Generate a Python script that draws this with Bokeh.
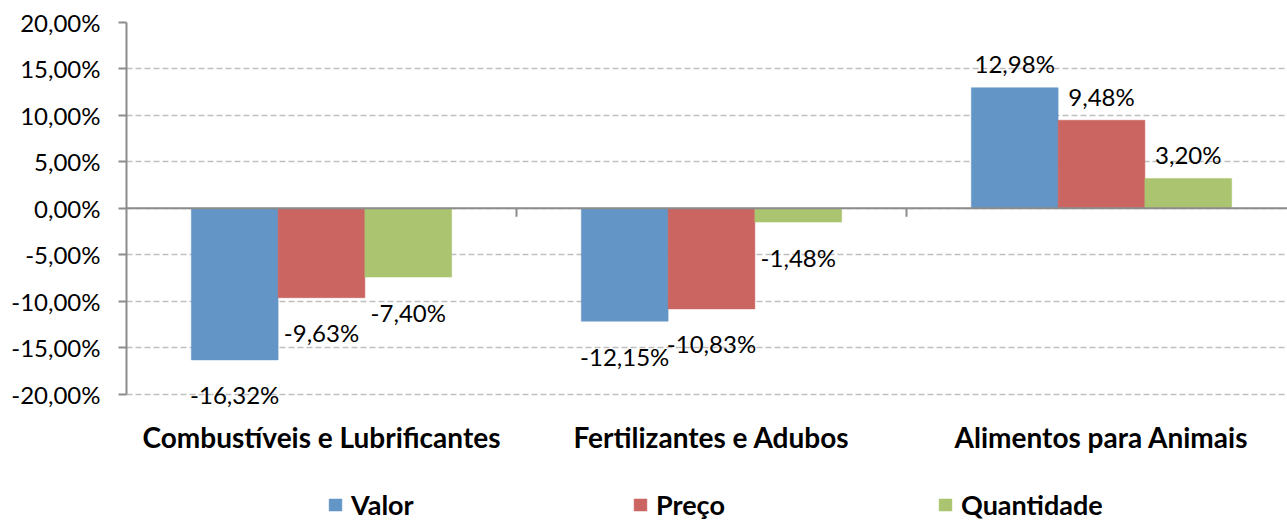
from bokeh.plotting import figure
from bokeh.models import (ColumnDataSource, FixedTicker, Span, LabelSet, Legend, LegendItem, Range1d)
from bokeh.core.properties import value
from bokeh.embed import file_html
from bokeh.resources import INLINE

categories = ["Combustíveis e Lubrificantes", "Fertilizantes e Adubos", "Alimentos para Animais"]
series = ["Valor", "Preço", "Quantidade"]
valor = [-16.32, -12.15, 12.98]
preco = [-9.63, -10.83, 9.48]
quantidade = [-7.40, -1.48, 3.20]
colors = ["#6395C7", "#CA6561", "#AAC46F"]
y_ticks = [-20, -15, -10, -5, 0, 5, 10, 15, 20]
y_tick_labels = ["-20,00%", "-15,00%", "-10,00%", "-5,00%", "0,00%", "5,00%", "10,00%", "15,00%", "20,00%"]

FONT = "Lato"
W, H = 1287, 524
LEFT, TOP = 126, 22
PX_PER_UNIT = 371.6 / 40.0
CAT_PX = 390.0
bar_w = 0.2225
offsets = [-bar_w, 0.0, bar_w]

y_end = y_ticks[-1]
y_start = y_end - (H - TOP) / PX_PER_UNIT

p = figure(width=W, height=H, output_backend="svg", toolbar_location=None,
           x_range=Range1d(0, (W - LEFT) / CAT_PX), y_range=Range1d(y_start, y_end),
           x_axis_location=None,
           min_border_left=LEFT, min_border_right=0, min_border_top=TOP, min_border_bottom=0)
p.outline_line_color = None
p.background_fill_color = "white"
p.border_fill_color = "white"

# grid
p.xgrid.grid_line_color = None
p.ygrid.ticker = FixedTicker(ticks=y_ticks)
p.ygrid.grid_line_color = "#bfbfbf"
p.ygrid.grid_line_dash = "6 3"
p.ygrid.grid_line_width = 1.3

# y axis
p.yaxis.ticker = FixedTicker(ticks=y_ticks)
p.yaxis.bounds = (y_ticks[0], y_ticks[-1])
p.yaxis.major_label_overrides = {t: l for t, l in zip(y_ticks, y_tick_labels)}
p.yaxis.axis_line_color = "#8c8c8c"
p.yaxis.axis_line_width = 2
p.yaxis.major_tick_line_color = "#8c8c8c"
p.yaxis.major_tick_line_width = 2
p.yaxis.major_tick_out = 8
p.yaxis.major_tick_in = 0
p.yaxis.minor_tick_line_color = None
p.yaxis.major_label_standoff = 18
p.yaxis.major_label_text_font = FONT
p.yaxis.major_label_text_font_size = "24px"
p.yaxis.major_label_text_color = "#000000"

cat_pos = [i + 0.5 for i in range(len(categories))]

renderers = []
for vals, name, col, off in zip([valor, preco, quantidade], series, colors, offsets):
    xs = [c + off for c in cat_pos]
    labels = [f"{v:.2f}%".replace(".", ",") for v in vals]
    src = ColumnDataSource(dict(x=xs, top=vals))
    r = p.vbar(x="x", top="top", bottom=0, width=bar_w, source=src,
               fill_color=col, line_color=col, line_width=0.5)
    renderers.append(r)
    pos = ColumnDataSource(dict(x=[x for x, v in zip(xs, vals) if v >= 0],
                                y=[v for v in vals if v >= 0],
                                label=[l for l, v in zip(labels, vals) if v >= 0]))
    neg = ColumnDataSource(dict(x=[x for x, v in zip(xs, vals) if v < 0],
                                y=[v for v in vals if v < 0],
                                label=[l for l, v in zip(labels, vals) if v < 0]))
    p.add_layout(LabelSet(x="x", y="y", text="label", source=pos, text_align="center",
                          text_baseline="middle", y_offset=24, text_font=value(FONT),
                          text_font_size="24px", text_color="#000000", level="overlay"))
    p.add_layout(LabelSet(x="x", y="y", text="label", source=neg, text_align="center",
                          text_baseline="middle", y_offset=-35, text_font=value(FONT),
                          text_font_size="24px", text_color="#000000", level="overlay"))

# category labels under the value axis
cat_src = ColumnDataSource(dict(x=cat_pos, y=[y_ticks[0]] * len(categories), label=categories))
p.add_layout(LabelSet(x="x", y="y", text="label", source=cat_src, text_align="center",
                      text_baseline="middle", y_offset=-43, text_font=value(FONT),
                      text_font_style="bold", text_font_size="28px", text_color="#000000",
                      level="overlay"))

# zero line with category tick marks
p.add_layout(Span(location=0, dimension="width", line_color="#8c8c8c", line_width=2))
bounds = list(range(1, len(categories)))
p.segment(x0=bounds, y0=[0] * len(bounds), x1=bounds, y1=[-0.9] * len(bounds),
          line_color="#8c8c8c", line_width=2)

legend = Legend(items=[LegendItem(label=n, renderers=[r]) for n, r in zip(series, renderers)],
                orientation="horizontal", location=(201, 3),
                glyph_width=16, glyph_height=15, label_standoff=8, label_width=281,
                label_height=26,
                spacing=0, padding=0, margin=0, border_line_color=None,
                background_fill_alpha=0,
                label_text_font=FONT, label_text_font_style="bold",
                label_text_font_size="27px", label_text_color="#000000")
p.add_layout(legend, "center")

open("out.html", "w").write(file_html(p, INLINE))
